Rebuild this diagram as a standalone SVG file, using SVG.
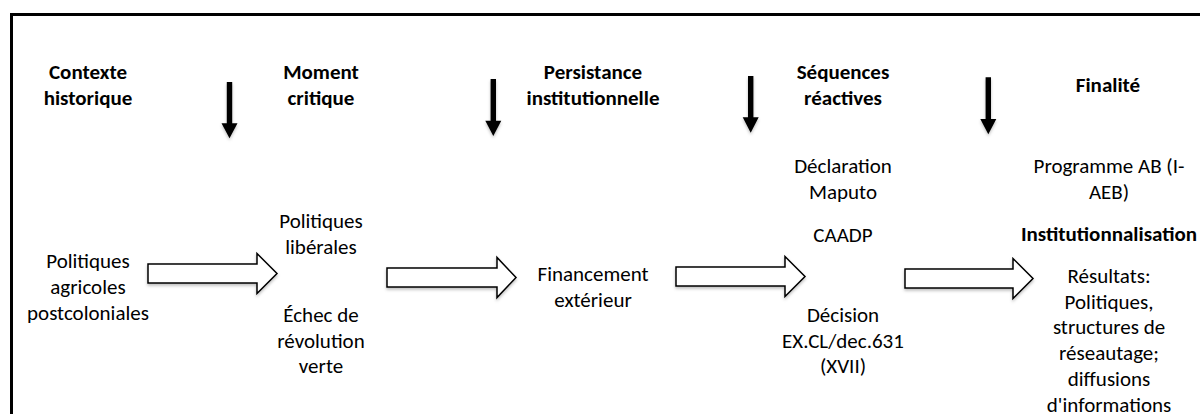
<svg xmlns="http://www.w3.org/2000/svg" width="1200" height="414" viewBox="0 0 1200 414">
<style>
text{font-family:Carlito,Lato,"Liberation Sans",sans-serif;font-size:21px;fill:#000;text-anchor:middle}
.h{font-weight:bold}
.blk{fill:#fff;stroke:#000;stroke-width:1.5;stroke-linejoin:miter;filter:url(#sh)}
.dn{fill:#000;stroke:none;filter:url(#sh)}
</style>
<defs>
<filter id="sh" x="-20%" y="-20%" width="140%" height="160%">
<feDropShadow dx="0" dy="2" stdDeviation="1.5" flood-color="#000" flood-opacity="0.25"/>
</filter>
</defs>
<rect width="1200" height="414" fill="#fff"/>
<path d="M11.5,414 V14.5 H1200" fill="none" stroke="#000" stroke-width="3"/>

<g id="h1"><text class="h" x="88" y="79">Contexte</text><text class="h" x="88" y="105">historique</text></g>
<g id="h2"><text class="h" x="321" y="79">Moment</text><text class="h" x="321" y="105">critique</text></g>
<g id="h3"><text class="h" x="593" y="79">Persistance</text><text class="h" x="593" y="105">institutionnelle</text></g>
<g id="h4"><text class="h" x="843" y="79">Séquences</text><text class="h" x="843" y="105">réactives</text></g>
<g id="h5"><text class="h" x="1108" y="92">Finalité</text></g>

<g id="n1"><text x="88" y="268">Politiques</text><text x="88" y="294">agricoles</text><text x="88" y="320">postcoloniales</text></g>
<g id="n2"><text x="321" y="228">Politiques</text><text x="321" y="254">libérales</text><text x="321" y="322">Échec de</text><text x="321" y="348">révolution</text><text x="321" y="373">verte</text></g>
<g id="n3"><text x="593" y="281">Financement</text><text x="593" y="307">extérieur</text></g>
<g id="n4"><text x="843" y="173">Déclaration</text><text x="843" y="199">Maputo</text><text x="843" y="241.5">CAADP</text><text x="843" y="321.5">Décision</text><text x="843" y="348">EX.CL/dec.631</text><text x="843" y="373">(XVII)</text></g>
<g id="n5"><text x="1109" y="173">Programme AB (I-</text><text x="1109" y="199">AEB)</text><text class="h" x="1109" y="240.5">Institutionnalisation</text><text x="1109" y="283">Résultats:</text><text x="1109" y="308.5">Politiques,</text><text x="1109" y="334">structures de</text><text x="1109" y="360">réseautage;</text><text x="1109" y="386">diffusions</text><text x="1109" y="411.5">d'informations</text></g>

<g id="connectors">
<polygon class="blk" points="148,264 257,264 257,253.5 277,273.5 257,293.5 257,283 148,283"/>
<polygon class="blk" points="387,268 497,268 497,257.5 516,277.5 497,297.5 497,287 387,287"/>
<polygon class="blk" points="676,267 785,267 785,256.5 805,276.5 785,296.5 785,286 676,286"/>
<polygon class="blk" points="905,269 1013,269 1013,258.5 1033,278.5 1013,298.5 1013,288 905,288"/>
<path class="dn" d="M226.8,82 h5.4 v41.3 h5.3 l-8,15 l-8,-15 h5.3 z"/>
<path class="dn" d="M490.6,79 h5.4 v41.7 h5.3 l-8,15.3 l-8,-15.3 h5.3 z"/>
<path class="dn" d="M748,76 h5.4 v41.3 h5.3 l-8,15.4 l-8,-15.4 h5.3 z"/>
<path class="dn" d="M985.6,77.3 h5.4 v41.7 h5.3 l-8,15.3 l-8,-15.3 h5.3 z"/>
</g>
</svg>
